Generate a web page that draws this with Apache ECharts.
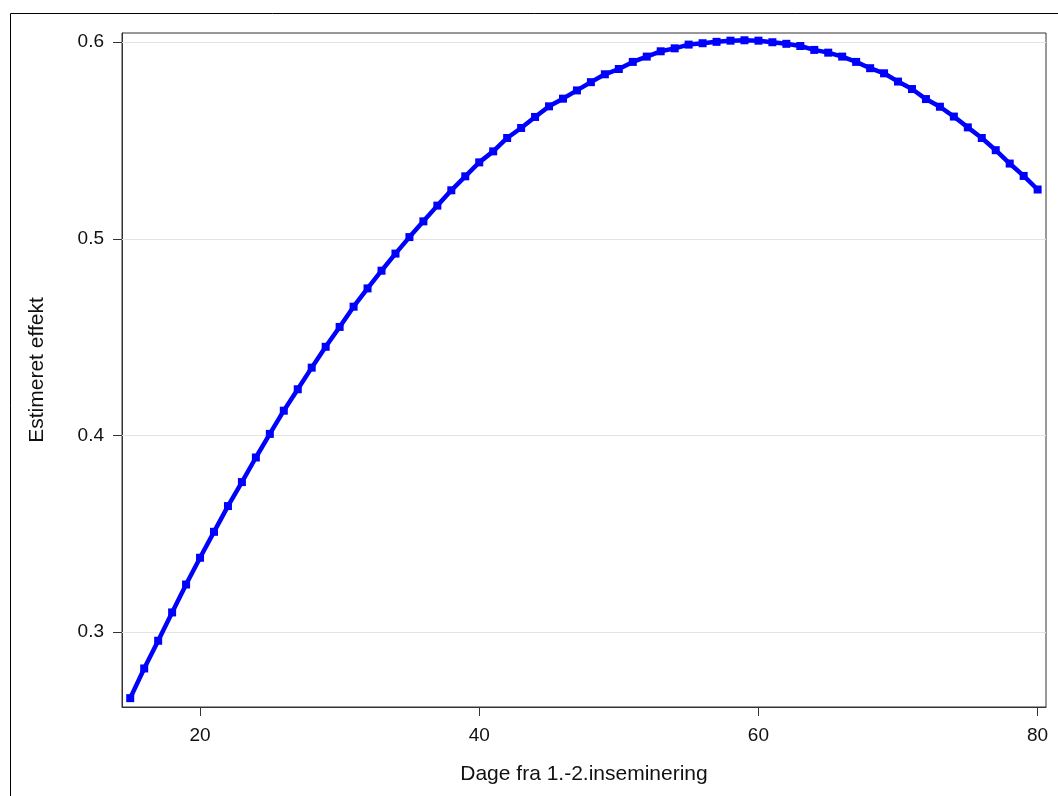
<!DOCTYPE html>
<html>
<head>
<meta charset="utf-8">
<script src="https://cdn.jsdelivr.net/npm/echarts@6/dist/echarts.min.js"></script>
<style>
html,body{margin:0;padding:0;background:#fff;}
#chart{width:1058px;height:796px;}
</style>
</head>
<body>
<div id="chart"></div>
<script>
const days = [15,16,17,18,19,20,21,22,23,24,25,26,27,28,29,30,31,32,33,34,35,36,37,38,39,40,41,42,43,44,45,46,47,48,49,50,51,52,53,54,55,56,57,58,59,60,61,62,63,64,65,66,67,68,69,70,71,72,73,74,75,76,77,78,79,80];
const effect = [0.2664,0.2815,0.2956,0.3100,0.3242,0.3378,0.3510,0.3641,0.3763,0.3888,
0.4008,0.4126,0.4235,0.4345,0.4451,0.4552,0.4655,0.4748,0.4838,0.4925,
0.5009,0.5089,0.5169,0.5247,0.5318,0.5389,0.5445,0.5513,0.5564,0.5620,
0.5674,0.5713,0.5755,0.5797,0.5837,0.5864,0.5900,0.5927,0.5954,0.5969,
0.5988,0.5995,0.6002,0.6008,0.6010,0.6008,0.6000,0.5992,0.5981,0.5961,
0.5947,0.5927,0.5900,0.5868,0.5842,0.5800,0.5762,0.5711,0.5672,0.5622,
0.5567,0.5513,0.5451,0.5383,0.5320,0.5251];
const xTicks = [20,40,60,80];
const yTicks = [0.3,0.4,0.5,0.6];
const xTitle = 'Dage fra 1.-2.inseminering';
const yTitle = 'Estimeret effekt';

const chart = echarts.init(document.getElementById('chart'), null, {renderer:'canvas'});
const font = 'Liberation Sans, Arial, sans-serif';
const option = {
  backgroundColor:'#fff',
  animation:false,
  graphic:[{
    type:'rect', z:100, silent:true,
    shape:{x:10.5,y:13.5,width:1200,height:900},
    style:{fill:'none', stroke:'#000', lineWidth:1}
  }],
  grid:{left:122, right:12, top:33, bottom:89, show:true, borderColor:'#333', borderWidth:1, backgroundColor:'#fff'},
  xAxis:{
    type:'value', min:14.41, max:80.6,
    name:xTitle, nameLocation:'middle', nameGap:57,
    nameTextStyle:{fontFamily:font, fontSize:21, color:'#111'},
    axisLine:{show:true, onZero:false, lineStyle:{color:'#333', width:1}},
    axisTick:{show:true, length:9, customValues:xTicks, lineStyle:{color:'#333'}},
    axisLabel:{customValues:xTicks, margin:19, fontFamily:font, fontSize:19, color:'#111'},
    splitLine:{show:false}
  },
  yAxis:{
    type:'value', min:0.2619, max:0.6047,
    name:yTitle, nameLocation:'middle', nameGap:74, nameRotate:90,
    nameTextStyle:{fontFamily:font, fontSize:21, color:'#111'},
    axisLine:{show:true, onZero:false, lineStyle:{color:'#333', width:1}},
    axisTick:{show:true, length:9, customValues:yTicks, lineStyle:{color:'#333'}},
    axisLabel:{customValues:yTicks, margin:18, fontFamily:font, fontSize:19, color:'#111',
      formatter:function(v){return String(Math.round(v*10)/10);}},
    splitLine:{show:false}
  },
  series:[
    {
      type:'line', data:[], z:1, silent:true,
      markLine:{silent:true, symbol:'none', label:{show:false},
        lineStyle:{color:'#e3e3e3', width:1, type:'solid'},
        data: yTicks.map(v=>({yAxis:v}))}
    },
    {
      type:'line', z:5,
      data: days.map((d,i)=>[d, effect[i]]),
      symbol:'rect', symbolSize:8, showSymbol:true,
      lineStyle:{color:'#0000ff', width:4.5},
      itemStyle:{color:'#0000ff'}
    }
  ]
};
chart.setOption(option);
</script>
</body>
</html>
